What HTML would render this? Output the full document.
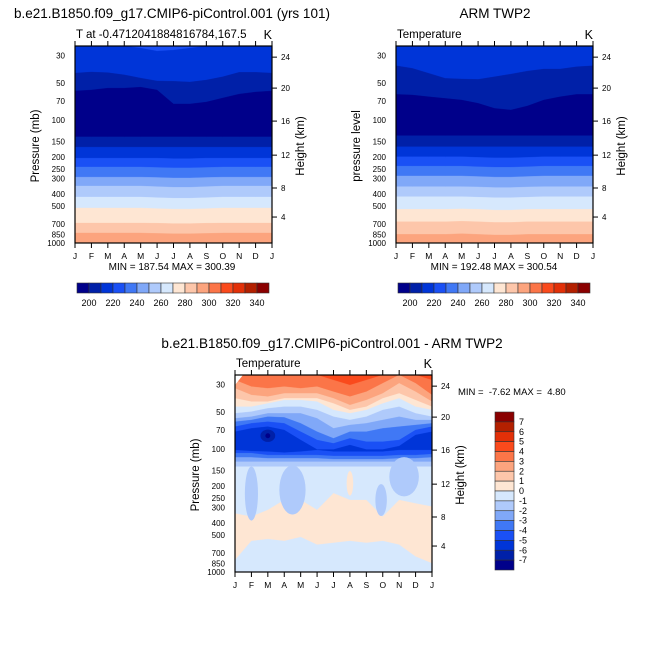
<!DOCTYPE html>
<html><head><meta charset="utf-8">
<style>
html,body{margin:0;padding:0;background:#fff;}
svg{display:block;font-family:"Liberation Sans",sans-serif;}
</style></head>
<body>
<svg id="fig" width="668" height="668" viewBox="0 0 668 668" xmlns="http://www.w3.org/2000/svg"></svg>
<script>
// ---- data ----
const months = ["J","F","M","A","M","J","J","A","S","O","N","D","J"];
const pressureTicks = [30,50,70,100,150,200,250,300,400,500,700,850,1000];
const heightTicks = [24,20,16,12,8,4];
const heightTickPressure = [30.8,55,102,193,357,615];
const palette = ["#00008a","#0020a8","#0035d8","#1a50f5","#4078f5","#80a8f8","#afcafb","#d6e8fd","#fee6d3","#fdc6aa","#fca47e","#fb7548","#fa4a1c","#e23008","#b32000","#8a0000"];
const tempLevels = [200,210,220,230,240,250,260,270,280,290,300,310,320,330,340];
const tempLabels = [200,220,240,260,280,300,320,340];
const diffLabels = [7,6,5,4,3,2,1,0,-1,-2,-3,-4,-5,-6,-7];

// model panel: contour boundaries (pressure, mb) per month, and colour index below each
const modelBase = 3;
const modelIdx = [2,1,0,1,2,3,4,5,6,7,8,9,10];
const modelB0 = [25,25,25,25,26,27.5,27,26,25,25,25,25,25];
const modelB1 = [41.5,40.7,41.2,42.9,45.6,48.1,48.4,49.1,47.3,44.5,40.9,40.9,41.5];
const modelB2 = [58,57,55,55,54,57,74,74,71.4,66.2,61.5,59.2,58];
const modelB3 = [137,137,137,137,137,137,137,137,137,137,137,137,137];
const modelB4 = [166,166,166,166,166,166,166,166,166,166,166,166,166];
const modelB5 = [204,204,204,204,204,204,206,206,204,204,204,204,204];
const modelB6 = [241,241,241,241,241,243,245,245,243,241,241,241,241];
const modelB7 = [291,291,291,291,291,293,296,296,293,291,291,291,291];
const modelB8 = [344,344,344,344,344,348,352,352,348,344,344,344,344];
const modelB9 = [423,423,423,423,423,428,432,432,428,423,423,423,423];
const modelB10 = [519,519,519,519,519,525,530,530,525,519,519,519,519];
const modelB11 = [688,688,688,688,688,690,695,695,690,688,688,688,688];
const modelB12 = [829,829,829,829,829,835,840,840,835,829,829,829,829];

// ARM panel
const armBase = 2;
const armIdx = [1,0,1,2,3,4,5,6,7,8,9,10];
const armB1 = [36.2,38,41.7,45.8,46.4,46.7,44.5,42.3,40,38.5,38.5,36.9,36.2];
const armB2 = [61.8,62.6,64.7,66.7,68.8,73.1,80.4,82.9,76.9,68.8,64.7,61.8,61.8];
const armB3 = [134,134,134,134,134,134,134,134,134,134,134,134,134];
const armB4 = [165,165,165,165,165,165,165,165,165,165,165,165,165];
const armB5 = [199,199,199,199,199,201,203,203,201,199,199,199,199];
const armB6 = [237,237,237,237,237,240,242,242,240,237,237,237,237];
const armB7 = [285,285,285,285,285,288,291,291,288,285,285,285,285];
const armB8 = [348,348,348,348,348,350,354,354,350,348,348,348,348];
const armB9 = [420,420,420,420,420,424,428,428,424,420,420,420,420];
const armB10 = [532,532,532,532,528,532,540,540,532,532,532,532,532];
const armB11 = [671,671,671,671,665,671,680,680,671,671,671,671,671];
const armB12 = [850,850,850,850,840,850,860,860,850,850,850,850,850];

// difference panel (model - ARM)
const diffBase = 12;
const diffIdx = [11,10,9,8,7,6,5,4,3,2,3,4,5,6,7,8,7];
const diffB1 = [25,25,25,25,25,25,27.5,30.2,27.5,25,25,25,27.5];
const diffB2 = [27.5,31.1,32.1,31.1,32.1,31.1,34.2,37.5,34.2,29.2,25,29.2,36.4];
const diffB3 = [32.1,36.4,37.5,35.3,35.3,35.3,38.7,43.9,40,35.3,29.2,34.2,41.2];
const diffB4 = [38.7,41.2,41.2,38.7,38.7,38.7,42.6,48.2,45.3,38.7,35.3,40,45.3];
const diffB5 = [45.3,45.3,42.6,40,40,41.2,48.2,51.3,48.2,42.6,38.7,45.3,48.2];
const diffB6 = [51.3,49.7,46.7,45.3,45.3,48.2,54.6,58.1,54.6,48.2,45.3,51.3,54.6];
const diffB7 = [56.3,54.6,51.3,51.3,51.3,56.3,67.9,63.8,61.8,58.1,54.6,58.1,58.1];
const diffB8 = [60,58.1,54.6,55.3,61.8,72.3,81.9,72.3,72.3,67.9,65.8,63.8,61.8];
const diffB9 = [65.8,61.8,60,61.8,72.3,84.5,90,81.9,87.2,87.2,84.5,70.1,65.8];
const diffB10 = [72.3,67.9,65.8,70.1,84.5,101,101,92.8,101,101,94.6,76.9,72.3];
const diffB11 = [102,104,105,107,105,102,105,105,105,105,102,102,102];
const diffB12 = [108,108,112,112,112,112,114,114,114,114,112,112,110];
const diffB13 = [117,117,119,119,119,119,121,121,121,121,119,119,117];
const diffB14 = [127,127,127,127,127,127,127,127,127,127,127,127,127];
const diffB15 = [139,139,139,139,139,139,139,139,139,139,139,139,139];
const diffB16 = [334,355,313,260,260,313,229,260,260,355,260,277,294];
const diffB17 = [800,560,540,560,520,600,580,560,580,560,600,750,850];
// blobs: month centre, pressure centre, month radius, decade radius, colour index
const blobMonth = [1,3.5,8.9,10.3,7,2,2];
const blobP = [230,215,260,168,190,78,78];
const blobRm = [0.4,0.8,0.35,0.9,0.2,0.45,0.15];
const blobRd = [0.22,0.2,0.13,0.16,0.1,0.05,0.02];
const blobIdx = [6,6,6,6,8,1,0];

const modelB = [modelB0,modelB1,modelB2,modelB3,modelB4,modelB5,modelB6,modelB7,modelB8,modelB9,modelB10,modelB11,modelB12];
const armB = [armB1,armB2,armB3,armB4,armB5,armB6,armB7,armB8,armB9,armB10,armB11,armB12];
const diffB = [diffB1,diffB2,diffB3,diffB4,diffB5,diffB6,diffB7,diffB8,diffB9,diffB10,diffB11,diffB12,diffB13,diffB14,diffB15,diffB16,diffB17];

// ---- drawing ----
const NS = "http://www.w3.org/2000/svg";
const svg = document.getElementById("fig");
function mk(tag, attrs, parent){
  const e = document.createElementNS(NS, tag);
  for (const k in attrs) e.setAttribute(k, attrs[k]);
  (parent||svg).appendChild(e);
  return e;
}
function txt(s, x, y, size, anchor, parent){
  const t = mk("text", {x:x, y:y, "font-size":size, "text-anchor":anchor||"start", fill:"#000"}, parent);
  t.textContent = s;
  return t;
}
const PTOP = 25, PBOT = 1000, W = 197, H = 197;
function makeAxes(x0, y0){
  return {
    x: m => x0 + m * W / 12,
    y: p => y0 + H * (Math.log10(p) - Math.log10(PTOP)) / (Math.log10(PBOT) - Math.log10(PTOP))
  };
}

function panel(opts){
  const {x0, y0, base, bounds, idx, name} = opts;
  const ax = makeAxes(x0, y0);
  const g = mk("g", {});
  
  
  const clip = mk("clipPath", {id: name + "-clip"}, g);
  mk("rect", {x:x0, y:y0, width:W, height:H}, clip);
  const fills = mk("g", {"clip-path": "url(#" + name + "-clip)"}, g);
  const bg = mk("rect", {x:x0, y:y0, width:W, height:H, fill:palette[base]}, fills);
  
  
  bounds.forEach((arr, i) => {
    let pts = arr.map((p, m) => ax.x(m).toFixed(2) + "," + ax.y(p).toFixed(2));
    pts.push(ax.x(12) + "," + (y0 + H + 2));
    pts.push(ax.x(0) + "," + (y0 + H + 2));
    const poly = mk("polygon", {points: pts.join(" "), fill: palette[idx[i]], stroke: palette[idx[i]], "stroke-width": 0.3}, fills);
    
    
  });
  if (opts.blobs){
    blobMonth.forEach((bm, i) => {
      const cy = ax.y(blobP[i]);
      const ry = H * blobRd[i] / (Math.log10(PBOT) - Math.log10(PTOP));
      const el = mk("ellipse", {cx: ax.x(bm), cy: cy, rx: blobRm[i] * W / 12, ry: ry, fill: palette[blobIdx[i]]}, fills);
      
      
    });
    const tri = mk("polygon", {points: x0 + "," + y0 + " " + (x0 + 8) + "," + y0 + " " + x0 + "," + (y0 + 10), fill: "#fff"}, fills);
    
    
  }
  const frame = mk("rect", {x:x0, y:y0, width:W, height:H, fill:"none", stroke:"#000", "stroke-width":1.2}, g);
  
  
  months.forEach((mo, m) => {
    const x = ax.x(m);
    mk("line", {x1:x, y1:y0 + H, x2:x, y2:y0 + H + 5, stroke:"#000", "stroke-width":1}, g);
    mk("line", {x1:x, y1:y0, x2:x, y2:y0 - 5, stroke:"#000", "stroke-width":1}, g);
    const t = txt(mo, x, y0 + H + 16, 8.5, "middle", g);
    
    
  });
  pressureTicks.forEach(p => {
    const t = txt(String(p), x0 - 10, ax.y(p) + 3, 8, "end", g);
    
    
  });
  heightTicks.forEach((h, i) => {
    const y = ax.y(heightTickPressure[i]);
    mk("line", {x1:x0 + W, y1:y, x2:x0 + W + 5, y2:y, stroke:"#000", "stroke-width":1}, g);
    const t = txt(String(h), x0 + W + 9, y + 3, 8, "start", g);
    
    
  });
  const yt = txt(opts.ytitle, 0, 0, 11.5, "middle", g);
  yt.setAttribute("transform", "translate(" + (x0 - 36) + "," + (y0 + 100) + ") rotate(-90)");
  
  
  const ht = txt("Height (km)", 0, 0, 11.5, "middle", g);
  ht.setAttribute("transform", "translate(" + (x0 + W + 32) + "," + (y0 + 100) + ") rotate(-90)");
  
  
  const st = txt(opts.sub, x0 + 1, y0 - 8, 11.5, "start", g);
  
  
  const k = txt("K", x0 + W, y0 - 7, 12.5, "end", g);
  
  
  return g;
}

function hColorbar(x0, y0, name){
  const g = mk("g", {});
  
  
  const bw = 12;
  palette.forEach((c, i) => {
    const r = mk("rect", {x:x0 + i * bw, y:y0, width:bw, height:10, fill:c, stroke:"#333", "stroke-width":0.6}, g);
    
    
  });
  tempLabels.forEach(v => {
    const i = tempLevels.indexOf(v) + 1;
    const t = txt(String(v), x0 + i * bw, y0 + 23, 9, "middle", g);
    
    
  });
}

let t;
t = txt("b.e21.B1850.f09_g17.CMIP6-piControl.001 (yrs 101)", 172, 18, 13.5, "middle");


t = txt("ARM TWP2", 495, 18, 13.5, "middle");


t = txt("b.e21.B1850.f09_g17.CMIP6-piControl.001 - ARM TWP2", 332, 348, 13.5, "middle");



panel({x0:75, y0:46, base:modelBase, bounds:modelB, idx:modelIdx, name:"model", ytitle:"Pressure (mb)", sub:"T at -0.4712041884816784,167.5"});
panel({x0:396, y0:46, base:armBase, bounds:armB, idx:armIdx, name:"obs", ytitle:"pressure level", sub:"Temperature"});
panel({x0:235, y0:375, base:diffBase, bounds:diffB, idx:diffIdx, name:"diff", ytitle:"Pressure (mb)", sub:"Temperature", blobs:true});

t = txt("MIN = 187.54 MAX = 300.39", 172, 270, 10, "middle");


t = txt("MIN = 192.48 MAX = 300.54", 494, 270, 10, "middle");


t = txt("MIN =  -7.62 MAX =  4.80", 458, 395, 9.5, "start");
t.setAttribute("style", "white-space:pre");



hColorbar(77, 283, "model-colorbar");
hColorbar(398, 283, "obs-colorbar");

const vg = mk("g", {});


const vbh = 158 / 16;
palette.slice().reverse().forEach((c, i) => {
  const r = mk("rect", {x:495, y:412 + i * vbh, width:19, height:vbh, fill:c, stroke:"#333", "stroke-width":0.6}, vg);
  
  
});
diffLabels.forEach((v, i) => {
  const tt = txt(String(v), 519, 412 + (i + 1) * vbh + 3, 9, "start", vg);
  
  
});
</script>
</body></html>
